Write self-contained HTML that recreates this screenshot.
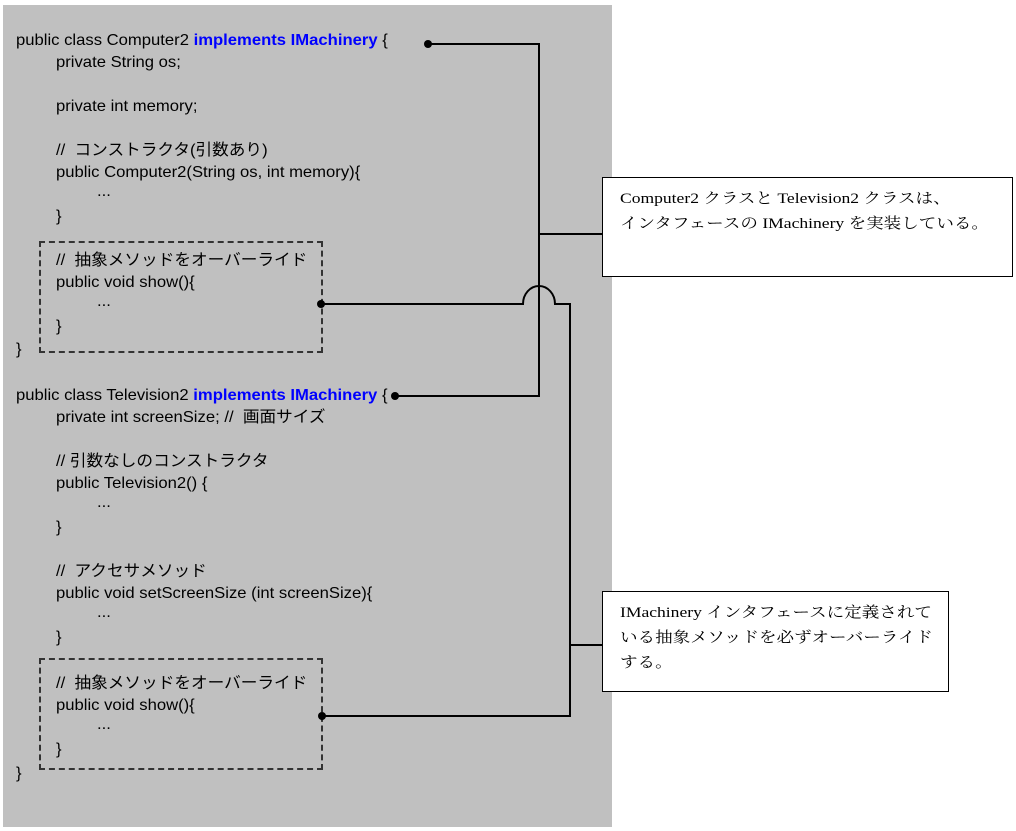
<!DOCTYPE html>
<html><head><meta charset="utf-8"><style>
body{margin:0;width:1016px;height:831px;background:#fff;position:relative;overflow:hidden;font-family:"Liberation Sans","Noto Sans CJK JP",sans-serif;}
.bg{position:absolute;left:3px;top:5px;width:609px;height:822px;background:#c0c0c0;}
.t{position:absolute;font-size:16px;line-height:18px;white-space:nowrap;color:#000;transform:scaleX(1.04);transform-origin:0 0;}
.b{color:#0000ff;font-weight:bold;}
.dash{position:absolute;border:2px dashed #333;box-sizing:border-box;}
.box{position:absolute;background:#fff;border:1.5px solid #000;box-sizing:border-box;}
.bt{position:absolute;left:17px;top:9px;font-family:"Liberation Serif","Noto Serif CJK SC",serif;font-size:15px;line-height:25px;white-space:nowrap;transform:scaleX(1.17);transform-origin:0 0;}
svg{position:absolute;left:0;top:0;}
</style></head><body>
<div class="bg"></div>
<div class="dash" style="left:39px;top:241px;width:284px;height:112px"></div>
<div class="dash" style="left:39px;top:658px;width:284px;height:112px"></div>
<div class="t" style="left:16px;top:32px">public class Computer2 <span class="b">implements IMachinery</span> {</div>
<div class="t" style="left:56px;top:54px">private String os;</div>
<div class="t" style="left:56px;top:98px">private int memory;</div>
<div class="t" style="left:56px;top:142px">//&nbsp; コンストラクタ(引数あり)</div>
<div class="t" style="left:56px;top:164px">public Computer2(String os, int memory){</div>
<div class="t" style="left:97px;top:183px">...</div>
<div class="t" style="left:56px;top:208px">}</div>
<div class="t" style="left:56px;top:252px">//&nbsp; 抽象メソッドをオーバーライド</div>
<div class="t" style="left:56px;top:274px">public void show(){</div>
<div class="t" style="left:97px;top:293px">...</div>
<div class="t" style="left:56px;top:318px">}</div>
<div class="t" style="left:16px;top:341px">}</div>
<div class="t" style="left:16px;top:387px">public class Television2 <span class="b">implements IMachinery</span> {</div>
<div class="t" style="left:56px;top:409px">private int screenSize; //&nbsp; 画面サイズ</div>
<div class="t" style="left:56px;top:453px">// 引数なしのコンストラクタ</div>
<div class="t" style="left:56px;top:475px">public Television2() {</div>
<div class="t" style="left:97px;top:494px">...</div>
<div class="t" style="left:56px;top:519px">}</div>
<div class="t" style="left:56px;top:563px">//&nbsp; アクセサメソッド</div>
<div class="t" style="left:56px;top:585px">public void setScreenSize (int screenSize){</div>
<div class="t" style="left:97px;top:604px">...</div>
<div class="t" style="left:56px;top:629px">}</div>
<div class="t" style="left:56px;top:675px">//&nbsp; 抽象メソッドをオーバーライド</div>
<div class="t" style="left:56px;top:697px">public void show(){</div>
<div class="t" style="left:97px;top:716px">...</div>
<div class="t" style="left:56px;top:741px">}</div>
<div class="t" style="left:16px;top:765px">}</div>
<svg width="1016" height="831">
<g fill="none" stroke="#000" stroke-width="2">
<path d="M428 44 H539 V396 H395"/>
<path d="M539 234 H602"/>
<path d="M321 304 H523 A16 18 0 0 1 555 304 H570 V716 H322"/>
<path d="M570 645 H602"/>
</g>
<g fill="#000"><circle cx="428" cy="44" r="4"/><circle cx="395" cy="396" r="4"/><circle cx="321" cy="304" r="4"/><circle cx="322" cy="716" r="4"/></g>
</svg>
<div class="box" style="left:602px;top:177px;width:411px;height:100px"><div class="bt">Computer2 クラスと Television2 クラスは、<br>インタフェースの IMachinery を実装している。</div></div>
<div class="box" style="left:602px;top:591px;width:347px;height:101px"><div class="bt">IMachinery インタフェースに定義されて<br>いる抽象メソッドを必ずオーバーライド<br>する。</div></div>
</body></html>
